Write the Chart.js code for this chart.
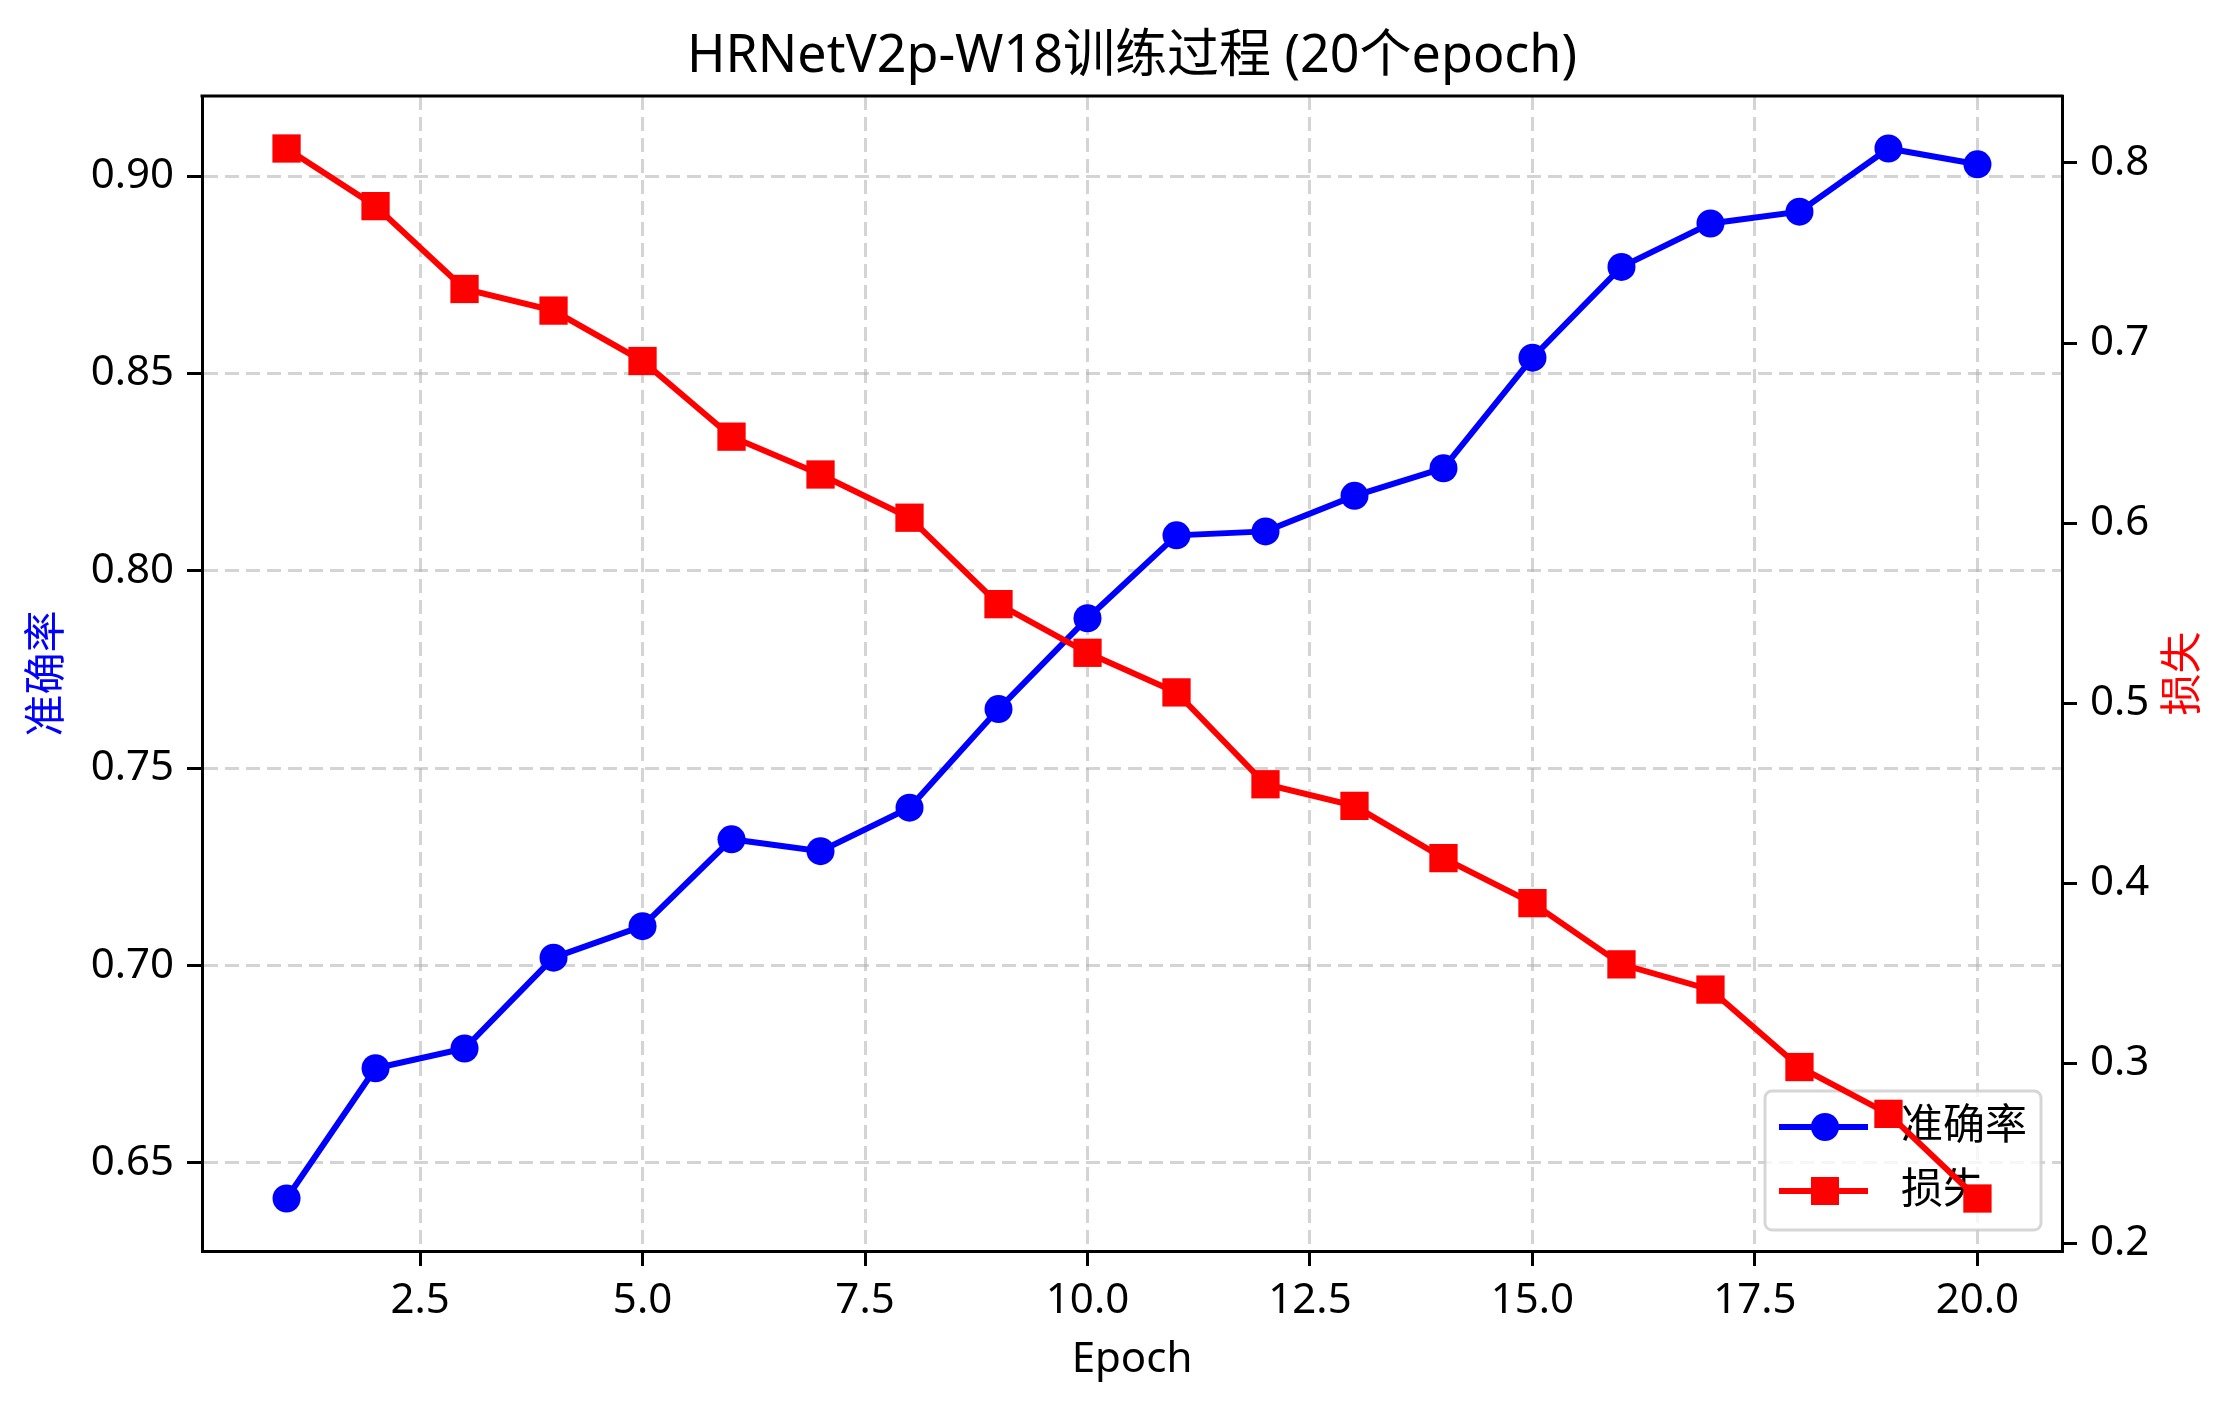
<!DOCTYPE html>
<html>
<head>
<meta charset="utf-8">
<title>HRNetV2p-W18训练过程</title>
<script src="https://cdn.jsdelivr.net/npm/chart.js@4.4.0/dist/chart.umd.min.js"></script>
<style>
  body { margin: 0; background: #fff; }
  #wrap { width: 2239px; height: 1413px; }
</style>
</head>
<body>
<div id="wrap"><canvas id="chart" width="2239" height="1413"></canvas></div>
<script>
// DATA
const epochs = [1, 2, 3, 4, 5, 6, 7, 8, 9, 10, 11, 12, 13, 14, 15, 16, 17, 18, 19, 20];
const accuracy = [0.641, 0.674, 0.679, 0.702, 0.710, 0.732, 0.729, 0.740, 0.765, 0.788,
                  0.809, 0.810, 0.819, 0.826, 0.854, 0.877, 0.888, 0.891, 0.907, 0.903];
const loss = [0.808, 0.776, 0.730, 0.718, 0.690, 0.648, 0.627, 0.603, 0.555, 0.528,
              0.506, 0.455, 0.443, 0.414, 0.389, 0.355, 0.341, 0.298, 0.272, 0.225];
const xTicks = [2.5, 5.0, 7.5, 10.0, 12.5, 15.0, 17.5, 20.0];
const accTicks = [0.65, 0.70, 0.75, 0.80, 0.85, 0.90];
const lossTicks = [0.2, 0.3, 0.4, 0.5, 0.6, 0.7, 0.8];

const FONT = '"Noto Sans", "Noto Sans CJK SC", sans-serif';

// matplotlib style 5% margins round the data
function pad(arr) {
  const lo = Math.min(...arr), hi = Math.max(...arr), m = (hi - lo) * 0.05;
  return [lo - m, hi + m];
}
const xRange = pad(epochs);
const accRange = pad(accuracy);
const lossRange = pad(loss);

Chart.defaults.font.family = FONT;
Chart.defaults.color = '#000';

const gridColor = 'rgba(176,176,176,0.55)';

function drawLegend(chart) {
  const ctx = chart.ctx, a = chart.chartArea;
  const w = 276, h = 139;
  const x = a.right - 21 - w, y = a.bottom - 21 - h;
  ctx.save();
  ctx.beginPath();
  ctx.roundRect(x, y, w, h, 7);
  ctx.fillStyle = 'rgba(255,255,255,0.8)';
  ctx.fill();
  ctx.lineWidth = 3;
  ctx.strokeStyle = 'rgba(204,204,204,0.8)';
  ctx.stroke();

  const rows = [
    { label: '准确率', color: 'blue', square: false },
    { label: '损失', color: 'red', square: true }
  ];
  rows.forEach(function(row, i) {
    const cy = y + 36 + i * 64;
    ctx.strokeStyle = row.color;
    ctx.lineWidth = 6;
    ctx.beginPath();
    ctx.moveTo(x + 14, cy);
    ctx.lineTo(x + 103, cy);
    ctx.stroke();
    ctx.fillStyle = row.color;
    if (row.square) {
      ctx.fillRect(x + 60 - 14, cy - 14, 28, 28);
    } else {
      ctx.beginPath();
      ctx.arc(x + 60, cy, 14, 0, Math.PI * 2);
      ctx.fill();
    }
    ctx.fillStyle = '#000';
    ctx.font = '42px ' + FONT;
    ctx.textAlign = 'left';
    ctx.textBaseline = 'middle';
    ctx.fillText(row.label, x + 136, cy);
  });
  ctx.restore();
}

const extras = {
  id: 'extras',
  beforeDatasetDraw(chart, args) {
    // legend sits on the accuracy axes, so the loss line goes over it
    if (args.index === 1) drawLegend(chart);
  },
  afterDraw(chart) {
    const ctx = chart.ctx, a = chart.chartArea;
    ctx.save();
    ctx.strokeStyle = '#000';
    ctx.lineWidth = 3;
    ctx.beginPath();
    ctx.moveTo(a.left - 1.5, a.top);
    ctx.lineTo(a.right + 1.5, a.top);
    ctx.stroke();
    // right axis label reads bottom to top like matplotlib
    ctx.translate(chart.scales.yLoss.right - 55, (a.top + a.bottom) / 2);
    ctx.rotate(-Math.PI / 2);
    ctx.fillStyle = 'red';
    ctx.font = '42px ' + FONT;
    ctx.textAlign = 'center';
    ctx.textBaseline = 'middle';
    ctx.fillText('损失', 0, 0);
    ctx.restore();
  }
};

const myChart = new Chart('chart', {
  type: 'line',
  data: {
    datasets: [{
      label: '准确率',
      data: epochs.map((e, i) => ({ x: e, y: accuracy[i] })),
      yAxisID: 'yAcc',
      borderColor: 'blue',
      backgroundColor: 'blue',
      borderWidth: 6,
      pointStyle: 'circle',
      pointRadius: 14,
      pointBorderWidth: 0,
      order: 2
    }, {
      label: '损失',
      data: epochs.map((e, i) => ({ x: e, y: loss[i] })),
      yAxisID: 'yLoss',
      borderColor: 'red',
      backgroundColor: 'red',
      borderWidth: 6,
      pointStyle: 'rect',
      pointRadius: 20,
      pointBorderWidth: 0,
      order: 1
    }]
  },
  options: {
    responsive: false,
    animation: false,
    devicePixelRatio: 1,
    events: [],
    layout: { padding: 0 },
    plugins: {
      legend: { display: false },
      tooltip: { enabled: false },
      title: {
        display: true,
        fullSize: false, // centre over the plot area, not the canvas
        text: 'HRNetV2p-W18训练过程 (20个epoch)',
        color: '#000',
        font: { size: 52, weight: 'normal', lineHeight: 1.2 },
        padding: { top: 26, bottom: 7.6 }
      }
    },
    scales: {
      x: {
        type: 'linear',
        min: xRange[0],
        max: xRange[1],
        afterBuildTicks: s => { s.ticks = xTicks.map(v => ({ value: v })); },
        afterFit: s => { s.height = 162; },
        ticks: {
          autoSkip: false, maxRotation: 0, padding: 10,
          font: { size: 42 },
          callback: v => v.toFixed(1)
        },
        grid: { color: gridColor, lineWidth: 3, tickLength: 15, tickColor: '#000' },
        border: { color: '#000', width: 3, dash: [14, 7] },
        title: { display: true, text: 'Epoch', font: { size: 42 }, padding: { bottom: 28 } }
      },
      yAcc: {
        type: 'linear',
        position: 'left',
        min: accRange[0],
        max: accRange[1],
        afterBuildTicks: s => { s.ticks = accTicks.map(v => ({ value: v })); },
        afterFit: s => { s.width = 202; },
        ticks: { padding: 13, font: { size: 42 }, callback: v => v.toFixed(2) },
        grid: { color: gridColor, lineWidth: 3, tickLength: 15, tickColor: '#000' },
        border: { color: '#000', width: 3, dash: [14, 7] },
        title: { display: true, text: '准确率', color: 'blue', font: { size: 42 }, padding: { top: 23 } }
      },
      yLoss: {
        type: 'linear',
        position: 'right',
        min: lossRange[0],
        max: lossRange[1],
        afterBuildTicks: s => { s.ticks = lossTicks.map(v => ({ value: v })); },
        afterFit: s => { s.width = 177; },
        ticks: { padding: 13, font: { size: 42 }, callback: v => v.toFixed(1) },
        grid: { drawOnChartArea: false, lineWidth: 3, tickLength: 15, tickColor: '#000' },
        border: { color: '#000', width: 3 }
      }
    }
  },
  plugins: [extras]
});
</script>
</body>
</html>
